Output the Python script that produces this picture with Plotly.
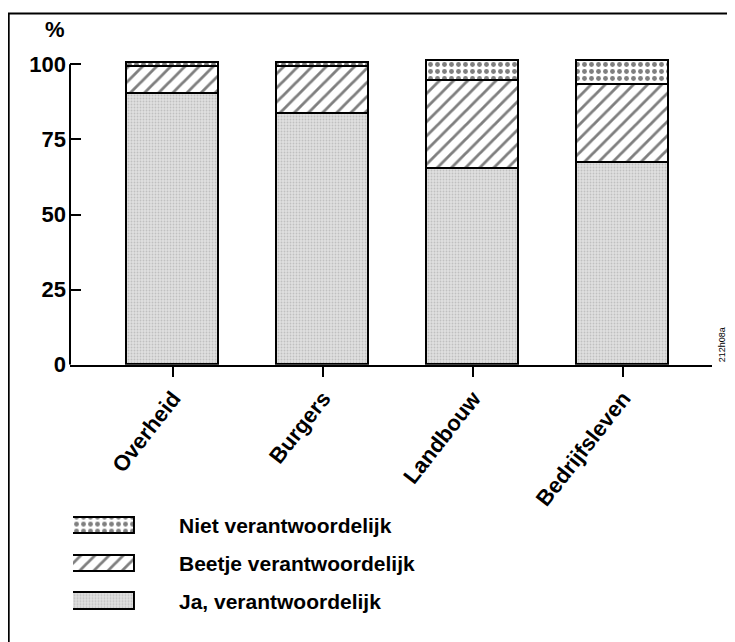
import plotly.graph_objects as go

categories = ["Overheid", "Burgers", "Landbouw", "Bedrijfsleven"]
series_names = ["Ja, verantwoordelijk", "Beetje verantwoordelijk", "Niet verantwoordelijk"]
ja = [90, 83.5, 65, 67]
beetje = [9, 15.5, 29.5, 26]
niet = [1.5, 1.5, 6.5, 8]
y_ticks = [0, 25, 50, 75, 100]

FONT = "Liberation Sans, Arial, Helvetica, sans-serif"

patterns = [
    dict(shape=".", bgcolor="#e0e0e0", fgcolor="#a0a0a0", size=3, solidity=0.3),
    dict(shape="/", bgcolor="white", fgcolor="black", size=10, solidity=0.28),
    dict(shape=".", bgcolor="white", fgcolor="black", size=7, solidity=0.38),
]
values = [ja, beetje, niet]

fig = go.Figure()
for name, vals, pat in zip(series_names, values, patterns):
    fig.add_trace(go.Bar(
        x=categories, y=vals, name=name, width=0.61,
        marker=dict(color="white", pattern=pat, line=dict(color="black", width=1.8)),
        showlegend=False,
    ))

# legend swatches as a small helper subplot
for name, pat in zip(series_names, patterns):
    fig.add_trace(go.Bar(
        x=[1], y=[name], orientation="h", width=0.44,
        xaxis="x2", yaxis="y2",
        marker=dict(color="white", pattern=pat, line=dict(color="black", width=1.8)),
        showlegend=False,
    ))

fig.update_layout(
    width=727, height=634,
    margin=dict(l=62, r=23, t=32, b=8),
    paper_bgcolor="white", plot_bgcolor="white",
    barmode="stack", bargap=0,
    font=dict(family=FONT, color="black"),
    xaxis=dict(
        domain=[0, 1], anchor="y",
        range=[-0.6867, 3.5933],
        showline=True, linecolor="black", linewidth=2,
        ticks="outside", ticklen=10, tickwidth=2, tickcolor="black",
        tickangle=-52, showgrid=False, zeroline=False,
        tickfont=dict(size=22, weight="bold", family=FONT),
    ),
    yaxis=dict(
        domain=[0.4411, 1], anchor="x",
        range=[0, 108.1],
        tickvals=y_ticks, ticktext=[str(v) for v in y_ticks],
        showline=False,
        ticks="inside", ticklen=11, tickwidth=2, tickcolor="black",
        showgrid=False, zeroline=False,
        tickfont=dict(size=22, weight="bold", family=FONT),
        ticklabelstandoff=3,
    ),
    xaxis2=dict(domain=[0.0047, 0.1012], anchor="y2", range=[0, 1], visible=False),
    yaxis2=dict(
        domain=[0.001, 0.1968], anchor="x2", type="category",
        categoryorder="array", categoryarray=series_names,
        range=[-0.5, 2.5], side="right",
        showline=False, ticks="", showgrid=False, zeroline=False,
        ticklabelstandoff=43,
        tickfont=dict(size=21, weight="bold", family=FONT),
    ),
    shapes=[
        # y axis line from 0 to 100
        dict(type="line", xref="paper", yref="y", x0=0, x1=0, y0=0, y1=100,
             line=dict(color="black", width=2)),
        # frame (top and left edges visible)
        dict(type="rect", xref="paper", yref="paper", x0=-0.0955, x1=1.3,
             y0=-0.2, y1=1.0455, line=dict(color="black", width=2)),
    ],
    annotations=[
        dict(text="%", xref="paper", yref="paper", x=-0.0234, y=1.0185,
             showarrow=False, xanchor="center", yanchor="middle",
             font=dict(size=22, weight="bold", family=FONT)),
        dict(text="212h08a", xref="paper", yref="paper", x=1.0156, y=0.4747,
             showarrow=False, textangle=-90, xanchor="center", yanchor="middle",
             font=dict(size=9, family=FONT)),
    ],
)

fig.write_html("out.html")
